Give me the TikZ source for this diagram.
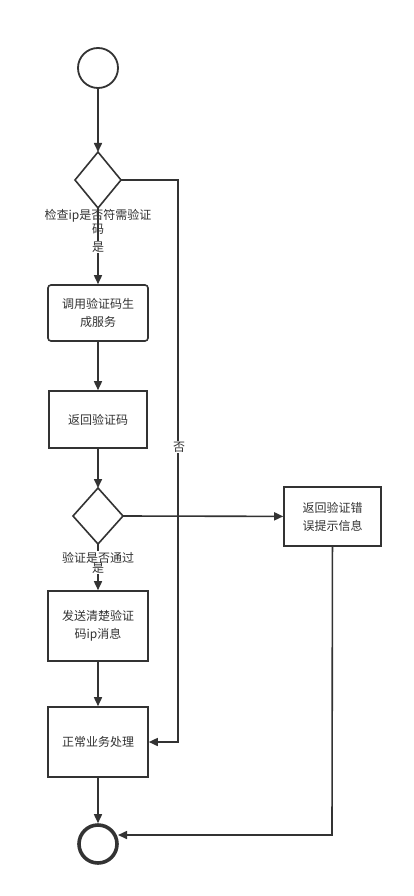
\documentclass[tikz,border=0pt]{standalone}
\usepackage{fontspec}
\setmainfont{Noto Sans CJK SC}
\usetikzlibrary{arrows.meta}

\definecolor{ink}{HTML}{333333}

\tikzset{
	flow/.style={draw=ink, line width=1.6pt, -{Triangle[length=9pt,width=8pt]}},
	plain/.style={draw=ink, line width=1.6pt},
	stepbox/.style={draw=ink, line width=1.6pt, minimum width=100pt, align=center, text=ink, inner sep=0pt},
	choice/.style={draw=ink, line width=1.6pt, line join=miter},
	lbl/.style={text=ink, font=\fontsize{12}{14}\selectfont, align=center, inner sep=1pt}
}

\begin{document}
\begin{tikzpicture}[x=1pt, y=-1pt]
	\useasboundingbox (0,0) rectangle (413,896);
	\fill[white] (0,0) rectangle (413,896);

	% start
	\node[draw=ink, line width=1.8pt, circle, minimum size=40pt, inner sep=0pt] (start) at (98,68) {};

	% first check
	\draw[choice] (98,152) -- (121,180) -- (98,208) -- (75,180) -- cycle;
	\coordinate (ipT) at (98,152);
	\coordinate (ipB) at (98,208);
	\coordinate (ipR) at (121,180);
	\node[lbl] (ipq) at (98,222) {检查ip是否符需验证\\码};
	\node[lbl, fill=white] (ipyes) at (98,247) {是};

	% boxes
	\node[stepbox, rounded corners=3pt, minimum height=56pt, font=\fontsize{12}{18}\selectfont] (svc) at (98,313) {调用验证码生\\成服务};
	\node[stepbox, minimum width=98pt, minimum height=57pt, font=\fontsize{12}{18}\selectfont] (ret) at (98,419.5) {返回验证码};

	% second check
	\draw[choice] (98,488) -- (123,516) -- (98,544) -- (73,516) -- cycle;
	\coordinate (okT) at (98,488);
	\coordinate (okB) at (98,544);
	\coordinate (okR) at (123,516);
	\node[lbl] (okq) at (98,558) {验证是否通过};
	\node[lbl] (okyes) at (98,568) {是};

	\node[stepbox, minimum width=97pt, minimum height=59pt, font=\fontsize{12}{18}\selectfont] (err) at (332.5,516.5) {返回验证错\\误提示信息};
	\node[stepbox, minimum height=70pt, font=\fontsize{12}{18}\selectfont] (send) at (98,626) {发送清楚验证\\码ip消息};
	\node[stepbox, minimum height=70pt, font=\fontsize{12}{18}\selectfont] (work) at (98,742) {正常业务处理};

	% end
	\node[draw=ink, line width=3.6pt, circle, minimum size=38pt, inner sep=0pt] (stop) at (98,844) {};

	% connectors
	\draw[flow] (start) -- (ipT);
	\draw[plain] (ipB) -- (ipyes);
	\draw[flow] (ipyes) -- (svc);
	\draw[flow] (svc) -- (ret);
	\draw[flow] (ret) -- (okT);
	\draw[plain] (okB) -- (okq);
	\draw[flow] (okyes) -- (send);
	\draw[flow] (send) -- (work);
	\draw[flow] (work) -- (stop);
	\draw[flow] (okR) -- (err);

	% no
	\coordinate (noTop) at (178,180);
	\coordinate (noBot) at (178,742);
	\draw[flow] (ipR) -- (noTop) -- (noBot) -- (work);
	\node[lbl, fill=white] (nolbl) at (179,447) {否};

	% error back to end
	\coordinate (errDown) at (332,835);
	\coordinate (stopIn) at (118,835);
	\draw[flow] (err) -- (errDown) -- (stopIn);
\end{tikzpicture}
\end{document}
